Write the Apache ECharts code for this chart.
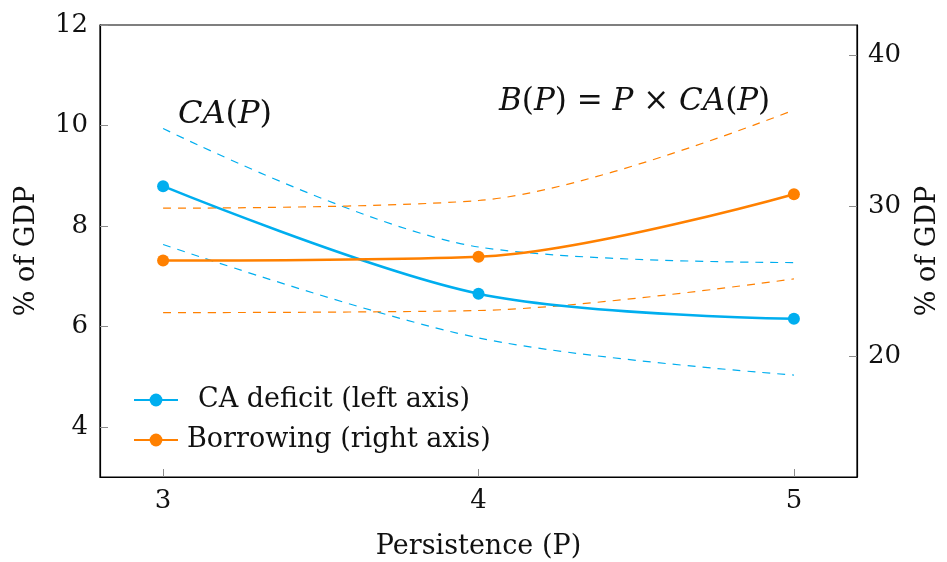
<!DOCTYPE html>
<html>
<head>
<meta charset="utf-8">
<script src="https://cdn.jsdelivr.net/npm/echarts@6/dist/echarts.min.js"></script>
<style>html,body{margin:0;padding:0;background:#fff}#c{width:947px;height:562px}</style>
</head>
<body>
<div id="c"></div>
<script>
// ---- data ----
const persistence = [3, 4, 5];
const caDeficit = [8.79, 6.65, 6.15];
const caUpper = [9.94, 7.58, 7.27];
const caLower = [7.63, 5.77, 5.03];
const borrowing = [26.37, 26.62, 30.77];
const bUpper = [29.84, 30.35, 36.36];
const bLower = [22.91, 23.05, 25.15];
const xTicks = [3, 4, 5];
const leftTicks = [4, 6, 8, 10, 12];
const rightTicks = [20, 30, 40];

const BLUE = '#00AEEF';
const ORANGE = '#FF8000';
const FONT = 'DejaVu Serif';
const SMOOTH = 0.33;

const pairs = arr => persistence.map((p, i) => [p, arr[i]]);

const chart = echarts.init(document.getElementById('c'), null, {renderer: 'canvas'});

const tickStyle = {show: true, inside: true, length: 8, lineStyle: {color: '#8c8c8c', width: 1}};

function solid(name, data, color, yIdx) {
  return {
    name, type: 'line', yAxisIndex: yIdx, data: pairs(data), smooth: SMOOTH,
    symbol: 'circle', symbolSize: 12, showSymbol: true,
    lineStyle: {color, width: 2.5}, itemStyle: {color},
    z: 5, animation: false
  };
}
function dashed(name, data, color, yIdx) {
  return {
    name, type: 'line', yAxisIndex: yIdx, data: pairs(data), smooth: SMOOTH,
    symbol: 'none', lineStyle: {color, width: 1.2, type: [8, 7]},
    z: 3, animation: false, silent: true
  };
}

chart.setOption({
  backgroundColor: '#fff',
  animation: false,
  textStyle: {fontFamily: FONT},
  grid: {left: 100, right: 90, top: 25, bottom: 85, containLabel: false, outerBoundsMode: 'none',
         show: true, borderColor: '#000', borderWidth: 1.2, backgroundColor: 'transparent'},
  xAxis: {
    type: 'value', min: 2.8, max: 5.2,
    name: 'Persistence (P)', nameLocation: 'middle', nameGap: 56,
    nameTextStyle: {fontFamily: FONT, fontSize: 27, color: '#111'},
    axisLine: {show: true, lineStyle: {color: '#000', width: 1.2}},
    axisTick: Object.assign({customValues: xTicks}, tickStyle),
    axisLabel: {customValues: xTicks, margin: 11, fontFamily: FONT, fontSize: 26, color: '#111'},
    splitLine: {show: false}
  },
  yAxis: [{
    type: 'value', min: 3, max: 12, position: 'left',
    name: '% of GDP', nameLocation: 'middle', nameGap: 60, nameRotate: 90,
    nameTextStyle: {fontFamily: FONT, fontSize: 27, color: '#111'},
    axisLine: {show: true, lineStyle: {color: '#000', width: 1.2}},
    axisTick: Object.assign({customValues: leftTicks}, tickStyle),
    axisLabel: {customValues: leftTicks, margin: 12, fontFamily: FONT, fontSize: 26, color: '#111'},
    splitLine: {show: false}
  }, {
    type: 'value', min: 12, max: 42, position: 'right',
    name: '% of GDP', nameLocation: 'middle', nameGap: 57, nameRotate: 90,
    nameTextStyle: {fontFamily: FONT, fontSize: 27, color: '#111'},
    axisLine: {show: true, lineStyle: {color: '#000', width: 1.2}},
    axisTick: Object.assign({customValues: rightTicks}, tickStyle),
    axisLabel: {customValues: rightTicks, margin: 11, fontFamily: FONT, fontSize: 26, color: '#111'},
    splitLine: {show: false}
  }],
  legend: [{
    data: [{name: 'CA deficit (left axis)', textStyle: {padding: [0, 0, 0, 15]}}],
    left: 133, top: 384, itemWidth: 44, itemHeight: 16, padding: 0,
    textStyle: {fontFamily: FONT, fontSize: 27, color: '#111', lineHeight: 32},
    selectedMode: false
  }, {
    data: [{name: 'Borrowing (right axis)', textStyle: {padding: [0, 0, 0, 4]}}],
    left: 133, top: 424, itemWidth: 44, itemHeight: 16, padding: 0,
    textStyle: {fontFamily: FONT, fontSize: 27, color: '#111', lineHeight: 32},
    selectedMode: false
  }],
  graphic: [{
    type: 'text', left: 178, top: 99,
    style: {
      text: '{i|CA}{n|(}{i|P}{n|)}',
      rich: {
        i: {fontFamily: FONT, fontStyle: 'italic', fontSize: 32, fill: '#111'},
        n: {fontFamily: FONT, fontSize: 32, fill: '#111'}
      }
    }
  }, {
    type: 'text', left: 499, top: 86,
    style: {
      text: '{i|B}{n|(}{i|P}{n|) = }{i|P}{n| × }{i|CA}{n|(}{i|P}{n|)}',
      rich: {
        i: {fontFamily: FONT, fontStyle: 'italic', fontSize: 31, fill: '#111'},
        n: {fontFamily: FONT, fontSize: 31, fill: '#111'}
      }
    }
  }],
  series: [
    dashed('CA upper', caUpper, BLUE, 0),
    dashed('CA lower', caLower, BLUE, 0),
    dashed('B upper', bUpper, ORANGE, 1),
    dashed('B lower', bLower, ORANGE, 1),
    solid('CA deficit (left axis)', caDeficit, BLUE, 0),
    solid('Borrowing (right axis)', borrowing, ORANGE, 1)
  ]
});
</script>
</body>
</html>
